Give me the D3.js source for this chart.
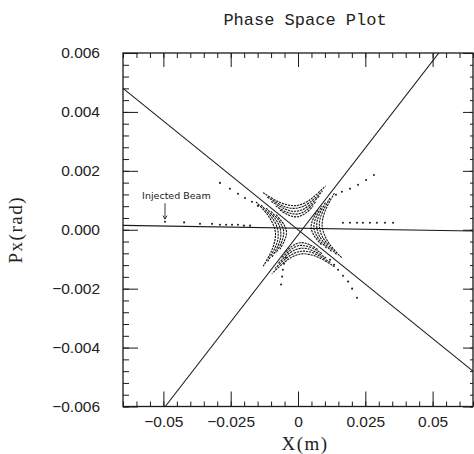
<!DOCTYPE html>
<html>
<head>
<meta charset="utf-8">
<script src="https://cdn.jsdelivr.net/npm/d3@7"></script>
<style>
  body { margin: 0; background: #fff; }
</style>
</head>
<body>
<svg id="chart" width="474" height="454"></svg>
<script>
// Phase space plot: separatrix asymptotes plus tracked particle turns (X in m, Px in rad).

const xMajorTicks = [-0.05, -0.025, 0, 0.025, 0.05];
const xTickLabels = ["\u22120.05", "\u22120.025", "0", "0.025", "0.05"];
const yMajorTicks = [-0.006, -0.004, -0.002, 0, 0.002, 0.004, 0.006];
const yTickLabels = ["\u22120.006", "\u22120.004", "\u22120.002", "0.000", "0.002", "0.004", "0.006"];

// straight lines: the two asymptotes and the injected beam axis
const descendingLine = [[-0.065, 0.0048], [0.065, -0.0048]];
const ascendingLine = [[-0.0493, -0.006], [0.0523, 0.006]];
const beamLine = [[-0.065, 0.00015], [0.065, -0.00004]];

// particle turns, one list per traced arc
const leftArcs = [
  [[-0.0081, 0.00051], [-0.0059, 0.00027], [-0.0048, 0.00010], [-0.0043, -0.00005], [-0.0044, -0.00020], [-0.0051, -0.00038], [-0.0067, -0.00066]],
  [[-0.0100, 0.00062], [-0.0072, 0.00033], [-0.0059, 0.00012], [-0.0053, -0.00006], [-0.0055, -0.00024], [-0.0063, -0.00047], [-0.0083, -0.00080]],
  [[-0.0118, 0.00073], [-0.0086, 0.00039], [-0.0070, 0.00015], [-0.0064, -0.00007], [-0.0065, -0.00029], [-0.0075, -0.00056], [-0.0098, -0.00095]],
  [[-0.0137, 0.00084], [-0.0100, 0.00045], [-0.0081, 0.00017], [-0.0074, -0.00008], [-0.0075, -0.00033], [-0.0087, -0.00064], [-0.0114, -0.00110]],
  [[-0.0156, 0.00095], [-0.0113, 0.00051], [-0.0093, 0.00019], [-0.0084, -0.00009], [-0.0086, -0.00037], [-0.0099, -0.00073], [-0.0129, -0.00124]]
];
const topArcs = [
  [[-0.0067, 0.00067], [-0.0038, 0.00051], [-0.0018, 0.00045], [-0.0002, 0.00044], [0.0013, 0.00048], [0.0031, 0.00058], [0.0056, 0.00079]],
  [[-0.0083, 0.00081], [-0.0047, 0.00062], [-0.0023, 0.00055], [-0.0003, 0.00053], [0.0016, 0.00058], [0.0037, 0.00071], [0.0068, 0.00096]],
  [[-0.0099, 0.00096], [-0.0056, 0.00074], [-0.0028, 0.00064], [-0.0005, 0.00063], [0.0018, 0.00069], [0.0044, 0.00084], [0.0079, 0.00114]],
  [[-0.0114, 0.00111], [-0.0066, 0.00085], [-0.0033, 0.00074], [-0.0006, 0.00073], [0.0020, 0.00080], [0.0050, 0.00097], [0.0091, 0.00131]],
  [[-0.0130, 0.00126], [-0.0075, 0.00096], [-0.0037, 0.00084], [-0.0007, 0.00082], [0.0023, 0.00090], [0.0056, 0.00110], [0.0103, 0.00149]]
];
const rightArcs = [
  [[0.0087, -0.00051], [0.0065, -0.00027], [0.0054, -0.00010], [0.0049, 0.00005], [0.0050, 0.00020], [0.0057, 0.00038], [0.0073, 0.00066]],
  [[0.0106, -0.00062], [0.0078, -0.00033], [0.0065, -0.00012], [0.0059, 0.00006], [0.0061, 0.00024], [0.0069, 0.00047], [0.0089, 0.00080]],
  [[0.0124, -0.00073], [0.0092, -0.00039], [0.0076, -0.00015], [0.0070, 0.00007], [0.0071, 0.00029], [0.0081, 0.00056], [0.0104, 0.00095]],
  [[0.0143, -0.00084], [0.0106, -0.00045], [0.0087, -0.00017], [0.0080, 0.00008], [0.0081, 0.00033], [0.0093, 0.00064], [0.0120, 0.00110]],
  [[0.0162, -0.00095], [0.0119, -0.00051], [0.0099, -0.00019], [0.0090, 0.00009], [0.0092, 0.00037], [0.0105, 0.00073], [0.0135, 0.00124]]
];
const bottomArcs = [
  [[0.0073, -0.00067], [0.0044, -0.00051], [0.0024, -0.00045], [0.0008, -0.00044], [-0.0007, -0.00048], [-0.0025, -0.00058], [-0.0050, -0.00079]],
  [[0.0089, -0.00081], [0.0053, -0.00062], [0.0029, -0.00055], [0.0009, -0.00053], [-0.0010, -0.00058], [-0.0031, -0.00071], [-0.0062, -0.00096]],
  [[0.0105, -0.00096], [0.0062, -0.00074], [0.0034, -0.00064], [0.0011, -0.00063], [-0.0012, -0.00069], [-0.0038, -0.00084], [-0.0073, -0.00114]],
  [[0.0120, -0.00111], [0.0072, -0.00085], [0.0039, -0.00074], [0.0012, -0.00073], [-0.0014, -0.00080], [-0.0044, -0.00097], [-0.0085, -0.00131]],
  [[0.0136, -0.00126], [0.0081, -0.00096], [0.0043, -0.00084], [0.0013, -0.00082], [-0.0017, -0.00090], [-0.0050, -0.00110], [-0.0097, -0.00149]]
];

// escaping particles and injected beam points
const upperLeftTrail = [[-0.0290, 0.00159], [-0.0253, 0.00139], [-0.0223, 0.00122], [-0.0197, 0.00108], [-0.0171, 0.00095], [-0.0149, 0.00081]];
const upperRightTrail = [[0.0141, 0.00119], [0.0163, 0.00129], [0.0193, 0.00139], [0.0223, 0.00153], [0.0253, 0.00169], [0.0282, 0.00186]];
const lowerRightTrail = [[0.0119, -0.00102], [0.0134, -0.00119], [0.0149, -0.00136], [0.0167, -0.00156], [0.0186, -0.00176], [0.0201, -0.00200], [0.0219, -0.00231]];
const lowerLeftTrail = [[-0.0045, -0.00095], [-0.0052, -0.00115], [-0.0056, -0.00136], [-0.0059, -0.00159], [-0.0063, -0.00186]];
const beamDotsLeft = [[-0.0494, 0.00027], [-0.0423, 0.00025], [-0.0364, 0.00020], [-0.0319, 0.00020],
  [-0.0290, 0.00017], [-0.0267, 0.00017], [-0.0245, 0.00017], [-0.0223, 0.00017], [-0.0201, 0.00014], [-0.0178, 0.00014]];
const beamDotsRight = [[0.0167, 0.00024], [0.0193, 0.00024], [0.0219, 0.00024], [0.0241, 0.00024],
  [0.0267, 0.00024], [0.0293, 0.00024], [0.0323, 0.00024], [0.0353, 0.00024]];

const svg = d3.select("#chart");
const margin = { top: 53, right: 1, bottom: 47.5, left: 123 };
const width = +svg.attr("width");
const height = +svg.attr("height");

const x = d3.scaleLinear().domain([-0.065, 0.065]).range([margin.left, width - margin.right]);
const y = d3.scaleLinear().domain([-0.006, 0.006]).range([height - margin.bottom, margin.top]);

const ink = "#1a1a1a";

svg.append("clipPath").attr("id", "plot-clip")
  .append("rect")
  .attr("x", x(-0.065)).attr("y", y(0.006))
  .attr("width", x(0.065) - x(-0.065)).attr("height", y(-0.006) - y(0.006));

// minor ticks every 0.005 m and 0.0004 rad
const xMinor = d3.range(-65, 66, 5).map(d => d / 1000);
const yMinor = d3.range(-15, 16, 1).map(d => d * 0.0004);

function tickAxis(axis, transform) {
  const g = svg.append("g").attr("transform", transform).call(axis);
  g.select(".domain").remove();
  g.selectAll(".tick line").attr("stroke", ink).attr("stroke-width", 1);
  return g;
}

const atBottom = `translate(0,${y(-0.006)})`;
const atTop = `translate(0,${y(0.006)})`;
const atLeft = `translate(${x(-0.065)},0)`;
const atRight = `translate(${x(0.065)},0)`;

tickAxis(d3.axisBottom(x).tickValues(xMinor).tickSize(-5).tickFormat(""), atBottom);
tickAxis(d3.axisTop(x).tickValues(xMinor).tickSize(-5).tickFormat(""), atTop);
tickAxis(d3.axisTop(x).tickValues(xMajorTicks).tickSize(-14).tickFormat(""), atTop);
tickAxis(d3.axisLeft(y).tickValues(yMinor).tickSize(-6).tickFormat(""), atLeft);
tickAxis(d3.axisRight(y).tickValues(yMinor).tickSize(-3).tickFormat(""), atRight);
tickAxis(d3.axisRight(y).tickValues(yMajorTicks).tickSize(-10).tickFormat(""), atRight);

const xAxis = tickAxis(d3.axisBottom(x).tickValues(xMajorTicks).tickSize(-15).tickPadding(9)
  .tickFormat((d, i) => xTickLabels[i]), atBottom);
const yAxis = tickAxis(d3.axisLeft(y).tickValues(yMajorTicks).tickSize(-15).tickPadding(23)
  .tickFormat((d, i) => yTickLabels[i]), atLeft);

[xAxis, yAxis].forEach(g => g.selectAll(".tick text")
  .attr("fill", "#222")
  .attr("font-family", "'Liberation Sans', Arial, sans-serif")
  .attr("font-size", 15.5));

svg.append("rect")
  .attr("x", x(-0.065)).attr("y", y(0.006))
  .attr("width", x(0.065) - x(-0.065)).attr("height", y(-0.006) - y(0.006))
  .attr("fill", "none").attr("stroke", ink).attr("stroke-width", 1.3);

const plot = svg.append("g").attr("clip-path", "url(#plot-clip)");

const straight = d3.line().x(d => x(d[0])).y(d => y(d[1]));
[descendingLine, ascendingLine, beamLine].forEach(l => {
  plot.append("path").attr("d", straight(l))
    .attr("fill", "none").attr("stroke", ink).attr("stroke-width", 1.1);
});

// arcs are drawn as dense dashed strokes to mimic the plotted turn-by-turn dots
const arcLine = d3.line().x(d => x(d[0])).y(d => y(d[1])).curve(d3.curveCatmullRom);
[leftArcs, topArcs, rightArcs, bottomArcs].forEach(group => {
  plot.selectAll(null).data(group).join("path")
    .attr("d", arcLine)
    .attr("fill", "none")
    .attr("stroke", "#111")
    .attr("stroke-width", 1.1)
    .attr("stroke-dasharray", "2.2 0.9");
});

const dots = [].concat(upperLeftTrail, upperRightTrail, lowerRightTrail, lowerLeftTrail, beamDotsLeft, beamDotsRight);
plot.selectAll(".pt").data(dots).join("circle")
  .attr("class", "pt")
  .attr("cx", d => x(d[0]))
  .attr("cy", d => y(d[1]))
  .attr("r", 1.05)
  .attr("fill", "#222");

// hand-written annotation
svg.append("text")
  .attr("x", x(-0.0579)).attr("y", y(0.00105))
  .attr("font-family", "'DejaVu Sans', sans-serif")
  .attr("font-size", 9.5)
  .attr("fill", "#222")
  .text("Injected Beam");
const arrowX = x(-0.0494);
svg.append("path")
  .attr("d", `M${arrowX},${y(0.0009)}V${y(0.00036)}M${arrowX - 2},${y(0.00048)}L${arrowX},${y(0.00036)}L${arrowX + 2},${y(0.00048)}`)
  .attr("fill", "none").attr("stroke", "#222").attr("stroke-width", 0.9);

svg.append("text")
  .attr("x", 305).attr("y", 25)
  .attr("text-anchor", "middle")
  .attr("font-family", "'Liberation Mono', 'Courier New', monospace")
  .attr("font-size", 17)
  .attr("fill", "#222")
  .text("Phase Space Plot");

svg.append("text")
  .attr("x", 305).attr("y", 450)
  .attr("text-anchor", "middle")
  .attr("font-family", "'Liberation Serif', 'Times New Roman', serif")
  .attr("font-size", 19)
  .attr("letter-spacing", 1.5)
  .attr("fill", "#222")
  .text("X(m)");

svg.append("text")
  .attr("transform", `translate(22,${y(0)}) rotate(-90)`)
  .attr("text-anchor", "middle")
  .attr("font-family", "'Liberation Serif', 'Times New Roman', serif")
  .attr("font-size", 19)
  .attr("letter-spacing", 1.5)
  .attr("fill", "#222")
  .text("Px(rad)");
</script>
</body>
</html>
